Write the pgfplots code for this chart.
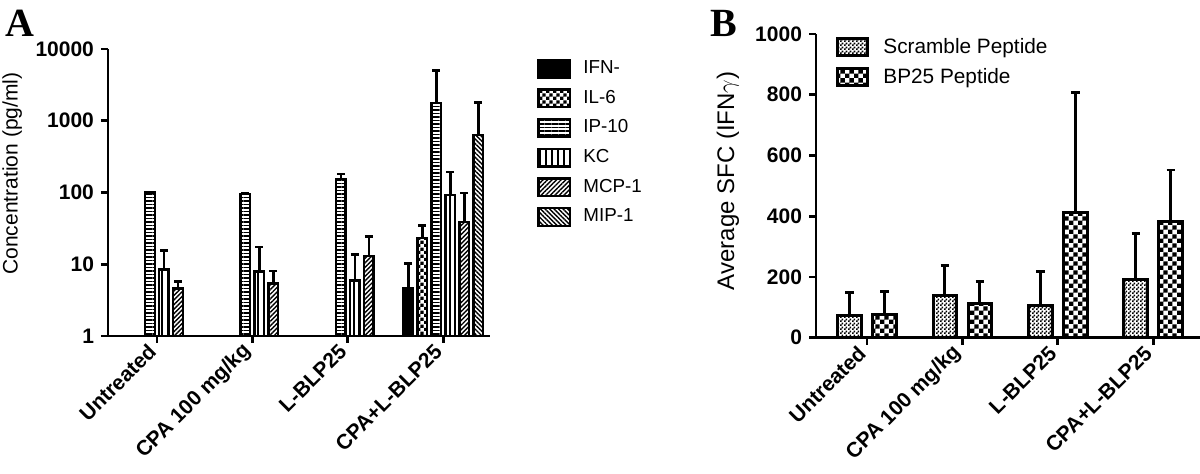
\documentclass[border=0pt]{standalone}
\usepackage{fontspec}
\setmainfont{Liberation Sans}
\newfontfamily\serifbf{Liberation Serif}
\usepackage{pgfplots}
\pgfplotsset{compat=1.18}
\usetikzlibrary{patterns,patterns.meta}

\pgfdeclarepatternformonly{chkA}{\pgfpointorigin}{\pgfpoint{3.6pt}{3.6pt}}{\pgfpoint{3.6pt}{3.6pt}}{%
 \pgfpathrectangle{\pgfpointorigin}{\pgfpoint{1.8pt}{1.8pt}}%
 \pgfpathrectangle{\pgfpoint{1.8pt}{1.8pt}}{\pgfpoint{1.8pt}{1.8pt}}%
 \pgfusepath{fill}}
\pgfdeclarepatternformonly{chkS}{\pgfpointorigin}{\pgfpoint{2pt}{2pt}}{\pgfpoint{2pt}{2pt}}{%
 \pgfpathrectangle{\pgfpointorigin}{\pgfpoint{1pt}{1pt}}%
 \pgfpathrectangle{\pgfpoint{1pt}{1pt}}{\pgfpoint{1pt}{1pt}}%
 \pgfusepath{fill}}
\pgfdeclarepatternformonly{chkB}{\pgfpointorigin}{\pgfpoint{4.4pt}{4.4pt}}{\pgfpoint{4.4pt}{4.4pt}}{%
 \pgfpathrectangle{\pgfpointorigin}{\pgfpoint{2.2pt}{2.2pt}}%
 \pgfpathrectangle{\pgfpoint{2.2pt}{2.2pt}}{\pgfpoint{2.2pt}{2.2pt}}%
 \pgfusepath{fill}}

\pgfplotsset{
 barA/.style={draw=black, line width=1.2pt,
   legend image code/.code={\draw[##1,line width=1.2pt] (0pt,-4.4pt) rectangle (15.8pt,4.4pt);},
   error bars/y dir=plus, error bars/y explicit,
   error bars/error bar style={line width=1.3pt, solid, black},
   error bars/error mark options={rotate=90, mark size=2pt, line width=1.3pt, black}},
 barB/.style={draw=black, line width=1.5pt,
   legend image code/.code={\draw[##1,line width=1.5pt] (0pt,-4.25pt) rectangle (15pt,4.25pt);},
   error bars/y dir=plus, error bars/y explicit,
   error bars/error bar style={line width=1.4pt, solid, black},
   error bars/error mark options={rotate=90, mark size=2.1pt, line width=1.4pt, black}},
 common/.style={
   scale only axis,
   axis lines=left,
   axis line style={-, line width=1.4pt},
   tick align=outside,
   major tick length=3.5pt,
   tick style={line width=1.4pt, black},
   xtick={0,1,2,3},
   xticklabels={Untreated, CPA 100 mg/kg, L-BLP25, CPA+L-BLP25},
   xticklabel style={rotate=45, anchor=east, font=\bfseries\fontsize{10.5}{12}\selectfont},
   yticklabel style={font=\bfseries\fontsize{10.5}{12}\selectfont},
   /pgf/number format/assume math mode=true,
   /pgf/number format/1000 sep={},
   clip=false,
 }
}

\begin{document}
\begin{tikzpicture}
\path[use as bounding box] (0pt,0pt) rectangle (600pt,-237pt);

\node[anchor=north west, inner sep=0pt] at (2.5pt,-5pt) {\serifbf\bfseries\fontsize{20}{20}\selectfont A};
\node[anchor=north west, inner sep=0pt] at (355pt,-5pt) {\serifbf\bfseries\fontsize{20}{20}\selectfont B};

% ---------------- Panel A ----------------
\begin{axis}[common,
  at={(54pt,-168pt)}, anchor=south west,
  width=191pt, height=143.5pt,
  xmin=-0.514, xmax=3.49,
  ymode=log, ymin=1, ymax=10000,
  ytick={1,10,100,1000,10000},
  yticklabels={1,10,100,1000,10000},
  yminorticks=false,
  ybar=2.2pt, bar width=4.8pt,
  ylabel={Concentration (pg/ml)},
  ylabel style={font=\fontsize{10.5}{12}\selectfont, at={(axis description cs:-0.207,0.566)}, anchor=south},
  legend style={draw=none, fill=none, at={(1.123,0.975)}, anchor=north west,
    inner sep=0pt, row sep=2.8pt, font=\fontsize{9.4}{10}\selectfont,
    /tikz/every odd column/.append style={column sep=4pt}},
  legend cell align=left,
]
\addplot[barA, fill=black] coordinates {(3,4.7) +- (0,5.6)};
\addplot[barA, pattern=chkA] coordinates {(3,23) +- (0,12)};
\addplot[barA, pattern={Lines[angle=0, distance=1.75pt, line width=0.7pt]}] coordinates {
 (0,100) +- (0,2) (1,95) +- (0,3) (2,153) +- (0,27) (3,1760) +- (0,3240)};
\addplot[barA, pattern={Lines[angle=90, distance=3pt, line width=0.8pt]}] coordinates {
 (0,8.5) +- (0,7) (1,7.9) +- (0,9.4) (2,5.9) +- (0,7.9) (3,93) +- (0,99)};
\addplot[barA, pattern={Lines[angle=45, distance=1.6pt, line width=0.7pt]}] coordinates {
 (0,4.6) +- (0,1.2) (1,5.4) +- (0,2.7) (2,13.1) +- (0,11.2) (3,39) +- (0,59)};
\addplot[barA, pattern={Lines[angle=-45, distance=1.6pt, line width=0.7pt]}] coordinates {
 (3,635) +- (0,1155)};
\legend{IFN-, IL-6, IP-10, KC, MCP-1, MIP-1}
\end{axis}

% ---------------- Panel B ----------------
\begin{axis}[common,
  at={(408pt,-168.85pt)}, anchor=south west,
  width=192pt, height=151.85pt,
  xmin=-0.534, xmax=3.49,
  ymin=0, ymax=1000,
  ytick={0,200,400,600,800,1000},
  ybar=5.7pt, bar width=11.8pt,
  ylabel={Average SFC (IFN$\gamma$)},
  ylabel style={font=\fontsize{12}{12}\selectfont, at={(axis description cs:-0.182,0.516)}, anchor=south},
  legend style={draw=none, fill=none, at={(0.052,1.0)}, anchor=north west,
    inner sep=0pt, row sep=1.85pt, font=\fontsize{10.4}{11}\selectfont,
    /tikz/every odd column/.append style={column sep=5pt}},
  legend cell align=left,
]
\addplot[barB, pattern=chkS] coordinates {
 (0,74.7) +- (0,73) (1,138) +- (0,99) (2,105) +- (0,112) (3,193) +- (0,150)};
\addplot[barB, pattern=chkB] coordinates {
 (0,78) +- (0,73) (1,111) +- (0,75) (2,412) +- (0,395) (3,384) +- (0,168)};
\legend{Scramble Peptide, BP25 Peptide}
\end{axis}
\end{tikzpicture}
\end{document}
